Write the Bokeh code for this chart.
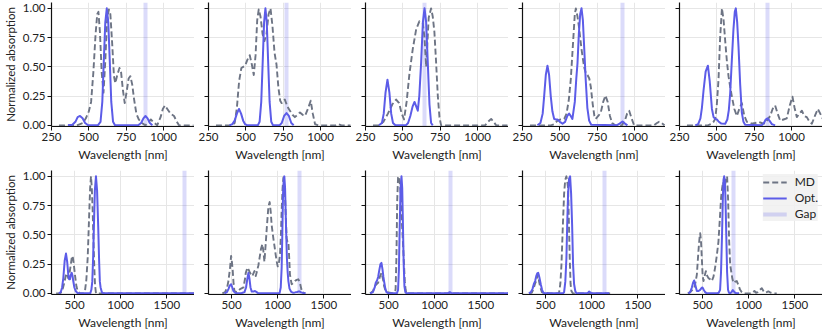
from bokeh.plotting import figure
from bokeh.models import (FixedTicker, NumeralTickFormatter, Legend, LegendItem, Range1d,
                          CustomJSTickFormatter)
from bokeh.layouts import row, column
from bokeh.embed import file_html
from bokeh.resources import INLINE

# ---------------- data (wavelength nm, normalized absorption) ----------------
T1_MD = [(300,0),(420,0),(460,0.02),(480,0.06),(500,0.12),(515,0.2),(530,0.45),(545,0.78),(556,0.95),(564,0.97),(574,0.8),(586,0.45),(598,0.28),(610,0.55),(622,0.9),(634,0.99),(644,0.95),(656,0.7),(668,0.42),(677,0.36),(690,0.43),(705,0.49),(716,0.45),(728,0.3),(740,0.19),(752,0.28),(766,0.4),(778,0.42),(790,0.35),(803,0.22),(818,0.1),(834,0.05),(855,0.02),(879,0.0),(900,0.03),(915,0.05),(930,0.03),(957,0.0),(980,0.07),(995,0.14),(1009,0.17),(1025,0.14),(1047,0.1),(1070,0.08),(1085,0.04),(1103,0.0),(1200,0.0)]
T1_OPT = [(360,0),(390,0.005),(410,0.03),(425,0.07),(441,0.08),(458,0.06),(475,0.02),(495,0.0),(560,0.0),(578,0.03),(590,0.2),(600,0.55),(610,0.88),(620,1.0),(630,0.88),(640,0.55),(650,0.2),(662,0.03),(675,0.0),(830,0.0),(850,0.02),(865,0.06),(879,0.08),(893,0.06),(908,0.02),(925,0.0)]

T2_MD = [(300,0),(405,0),(425,0.02),(440,0.15),(455,0.38),(470,0.49),(482,0.5),(495,0.51),(510,0.56),(526,0.6),(540,0.52),(553,0.43),(565,0.6),(576,0.9),(586,0.99),(598,0.93),(612,0.78),(624,0.72),(638,0.78),(652,0.95),(665,1.0),(678,0.85),(692,0.62),(705,0.52),(718,0.32),(730,0.21),(739,0.19),(750,0.21),(761,0.22),(778,0.16),(795,0.125),(812,0.09),(828,0.07),(845,0.09),(862,0.11),(880,0.09),(896,0.08),(915,0.14),(934,0.21),(948,0.1),(963,0.01),(985,0.0),(1100,0.0),(1120,0.01),(1140,0.0),(1200,0.0)]
T2_OPT = [(390,0),(410,0.01),(425,0.04),(440,0.1),(454,0.14),(468,0.1),(482,0.04),(495,0.01),(510,0.0),(580,0.0),(592,0.03),(603,0.2),(613,0.55),(622,0.88),(631,1.0),(640,0.88),(649,0.55),(659,0.2),(670,0.03),(682,0.0),(725,0.0),(740,0.02),(756,0.08),(772,0.105),(788,0.08),(804,0.02),(820,0.0)]

T3_MD = [(300,0),(340,0.0),(370,0.03),(400,0.1),(430,0.18),(455,0.22),(475,0.19),(492,0.1),(508,0.05),(525,0.2),(544,0.44),(566,0.65),(589,0.82),(611,0.89),(633,0.875),(645,0.75),(656,0.5),(664,0.7),(673,0.92),(689,1.0),(700,0.93),(711,0.8),(722,0.55),(734,0.25),(745,0.07),(756,0.0),(1050,0.0),(1070,0.03),(1091,0.055),(1108,0.03),(1124,0.0),(1200,0.0)]
T3_OPT = [(340,0),(360,0.02),(372,0.1),(384,0.28),(397,0.39),(410,0.28),(422,0.1),(434,0.02),(450,0.0),(520,0.0),(535,0.02),(550,0.08),(565,0.16),(578,0.2),(590,0.16),(600,0.125),(610,0.25),(622,0.53),(634,0.88),(645,1.0),(656,0.88),(667,0.53),(678,0.18),(689,0.02),(700,0.0)]

T4_MD = [(300,0),(440,0.0),(462,0.01),(484,0.04),(505,0.05),(529,0.055),(545,0.1),(560,0.22),(573,0.39),(588,0.7),(600,0.95),(607,1.0),(618,0.93),(629,0.83),(645,0.65),(662,0.5),(675,0.44),(685,0.43),(697,0.4),(707,0.33),(720,0.18),(731,0.08),(740,0.055),(757,0.08),(774,0.11),(790,0.2),(805,0.255),(820,0.2),(835,0.08),(850,0.02),(870,0.0),(915,0.0),(935,0.04),(950,0.1),(964,0.125),(980,0.06),(997,0.0),(1130,0.0),(1150,0.02),(1164,0.03),(1180,0.02),(1200,0.0)]
T4_OPT = [(350,0),(370,0.02),(385,0.1),(395,0.25),(406,0.43),(417,0.51),(428,0.43),(439,0.25),(450,0.12),(462,0.055),(473,0.05),(484,0.05),(500,0.03),(518,0.014),(535,0.03),(550,0.08),(562,0.1),(573,0.08),(584,0.055),(600,0.2),(610,0.4),(618,0.53),(627,0.78),(636,0.95),(645,1.0),(654,0.9),(663,0.66),(673,0.39),(684,0.15),(696,0.04),(710,0.005),(880,0.0),(900,0.015),(919,0.033),(936,0.015),(952,0.0)]

T5_MD = [(300,0),(440,0.0),(460,0.01),(478,0.03),(489,0.055),(500,0.18),(511,0.39),(522,0.75),(534,1.0),(545,0.9),(556,0.72),(567,0.55),(578,0.42),(589,0.33),(600,0.25),(617,0.14),(634,0.08),(650,0.14),(667,0.19),(684,0.08),(701,0.03),(734,0.015),(756,0.02),(778,0.03),(800,0.02),(823,0.015),(840,0.05),(857,0.08),(873,0.14),(890,0.17),(907,0.1),(924,0.04),(946,0.05),(968,0.06),(988,0.17),(1006,0.245),(1020,0.15),(1035,0.07),(1052,0.1),(1069,0.125),(1085,0.08),(1102,0.07),(1120,0.03),(1136,0.014),(1156,0.08),(1176,0.14),(1192,0.1),(1209,0.055)]
T5_OPT = [(355,0),(375,0.01),(390,0.06),(400,0.15),(411,0.3),(425,0.46),(440,0.51),(452,0.38),(467,0.14),(478,0.07),(489,0.055),(500,0.05),(511,0.033),(530,0.015),(556,0.014),(570,0.05),(580,0.13),(589,0.27),(600,0.55),(611,0.82),(620,0.97),(627,1.0),(636,0.88),(645,0.67),(656,0.35),(667,0.11),(678,0.03),(689,0.005),(800,0.0),(815,0.02),(827,0.05),(839,0.06),(852,0.04),(868,0.01),(890,0.0)]

B1_MD = [(300,0),(345,0.0),(365,0.02),(385,0.08),(405,0.15),(418,0.17),(432,0.13),(445,0.17),(458,0.24),(469,0.3),(479,0.32),(490,0.26),(504,0.16),(520,0.06),(534,0.02),(558,0.0),(600,0.0),(613,0.02),(628,0.12),(642,0.3),(651,0.5),(660,0.71),(669,0.9),(678,1.0),(687,0.9),(696,0.71),(705,0.45),(714,0.22),(722,0.07),(732,0.0),(1800,0.0)]
B1_OPT = [(330,0),(350,0.01),(365,0.05),(378,0.13),(393,0.28),(407,0.34),(420,0.27),(432,0.16),(441,0.12),(450,0.12),(460,0.16),(469,0.175),(478,0.15),(486,0.105),(498,0.05),(512,0.02),(530,0.003),(545,0.0),(670,0.0),(682,0.03),(692,0.1),(701,0.3),(710,0.58),(720,0.88),(732,1.0),(744,0.88),(756,0.58),(766,0.28),(774,0.1),(782,0.05),(796,0.01),(811,0.0),(1800,0.0)]

B2_MD = [(400,0),(430,0.01),(452,0.05),(466,0.105),(484,0.22),(495,0.32),(505,0.26),(513,0.19),(522,0.08),(531,0.02),(556,0.01),(592,0.036),(629,0.05),(645,0.12),(654,0.175),(672,0.22),(686,0.2),(700,0.175),(713,0.16),(726,0.147),(737,0.17),(748,0.19),(762,0.147),(776,0.19),(791,0.24),(805,0.31),(819,0.38),(834,0.42),(845,0.36),(856,0.27),(868,0.4),(881,0.55),(899,0.74),(913,0.78),(924,0.7),(935,0.58),(953,0.47),(966,0.4),(978,0.33),(990,0.27),(1000,0.23),(1013,0.26),(1025,0.33),(1035,0.5),(1043,0.71),(1053,0.9),(1062,0.99),(1070,0.93),(1079,0.85),(1088,0.65),(1097,0.47),(1106,0.44),(1116,0.44),(1125,0.3),(1133,0.16),(1151,0.078),(1170,0.09),(1187,0.105),(1205,0.115),(1224,0.12),(1241,0.09),(1255,0.04),(1267,0.01),(1296,0.0)]
B2_OPT = [(423,0),(450,0.01),(466,0.036),(480,0.065),(495,0.078),(508,0.05),(520,0.02),(540,0.004),(556,0.0),(600,0.0),(620,0.005),(640,0.01),(657,0.05),(670,0.12),(683,0.175),(695,0.12),(705,0.05),(719,0.015),(736,0.015),(754,0.02),(772,0.01),(790,0.0),(1020,0.0),(1033,0.05),(1043,0.22),(1050,0.5),(1058,0.85),(1066,0.98),(1072,1.0),(1080,0.9),(1090,0.58),(1100,0.3),(1108,0.18),(1116,0.105),(1128,0.04),(1144,0.015),(1165,0.005),(1187,0.008),(1210,0.012),(1231,0.017),(1255,0.008),(1278,0.003),(1303,0.0)]

B3_MD = [(300,0),(320,0.01),(332,0.02),(350,0.06),(369,0.078),(387,0.09),(405,0.14),(423,0.175),(440,0.12),(452,0.06),(465,0.03),(477,0.01),(513,0.005),(550,0.0),(567,0.02),(576,0.03),(585,0.3),(594,0.8),(603,0.99),(612,1.0),(622,0.95),(632,0.85),(645,0.6),(655,0.45),(664,0.3),(676,0.1),(685,0.03),(694,0.0),(1800,0.0)]
B3_OPT = [(300,0),(330,0.01),(350,0.05),(361,0.09),(375,0.11),(387,0.14),(400,0.2),(412,0.25),(423,0.26),(435,0.2),(444,0.14),(452,0.1),(465,0.04),(477,0.01),(500,0.0),(590,0.0),(603,0.03),(612,0.2),(621,0.58),(630,0.9),(640,1.0),(648,0.9),(656,0.58),(664,0.25),(672,0.06),(682,0.01),(695,0.0),(1140,0.0),(1163,0.01),(1185,0.0),(1800,0.0)]

B4_MD = [(320,0),(350,0.005),(369,0.036),(385,0.08),(398,0.105),(410,0.14),(420,0.16),(430,0.1),(440,0.06),(460,0.01),(477,0.005),(550,0.0),(640,0.0),(647,0.01),(660,0.08),(672,0.24),(686,0.55),(701,0.85),(713,0.97),(726,1.0),(735,0.96),(744,0.9),(753,0.6),(762,0.3),(771,0.08),(780,0.02),(795,0.0),(1200,0.0)]
B4_OPT = [(320,0),(340,0.01),(358,0.036),(373,0.08),(387,0.105),(400,0.15),(410,0.17),(420,0.175),(432,0.14),(448,0.078),(462,0.03),(474,0.008),(490,0.0),(690,0.0),(701,0.01),(714,0.1),(726,0.3),(735,0.6),(744,0.85),(755,0.98),(766,1.0),(777,0.85),(788,0.58),(798,0.25),(809,0.08),(822,0.02),(834,0.0),(950,0.0),(962,0.008),(972,0.015),(984,0.008),(1000,0.0),(1190,0.0)]

B5_MD = [(340,0),(366,0.01),(390,0.03),(412,0.05),(425,0.1),(438,0.16),(450,0.3),(460,0.41),(468,0.48),(474,0.515),(483,0.45),(492,0.3),(501,0.15),(510,0.105),(523,0.15),(536,0.19),(550,0.15),(564,0.13),(582,0.12),(600,0.105),(618,0.14),(636,0.22),(654,0.32),(672,0.44),(686,0.62),(701,0.82),(712,0.9),(722,0.95),(734,0.9),(745,0.93),(755,0.98),(766,1.0),(777,0.8),(788,0.45),(799,0.25),(810,0.19),(822,0.13),(835,0.09),(853,0.1),(871,0.105),(889,0.07),(907,0.03),(925,0.01),(943,0.0),(1015,0.0),(1040,0.005),(1062,0.02),(1080,0.005),(1100,0.01),(1123,0.03),(1142,0.044),(1160,0.02),(1178,0.005),(1195,0.01),(1213,0.016),(1240,0.005),(1267,0.0),(1304,0.0)]
B5_OPT = [(347,0),(366,0.01),(384,0.05),(397,0.09),(409,0.11),(422,0.07),(438,0.02),(456,0.02),(474,0.03),(488,0.045),(499,0.05),(512,0.03),(528,0.01),(545,0.0),(660,0.0),(675,0.005),(690,0.03),(700,0.18),(711,0.5),(720,0.82),(727,0.97),(734,1.0),(741,0.97),(748,0.82),(757,0.5),(766,0.18),(776,0.03),(786,0.005),(799,0.0),(813,0.01),(828,0.028),(840,0.015),(853,0.005),(870,0.0),(896,0.0)]

TOP_GAPS = [880, 770, 643, 921, 839]
BOTTOM_GAPS = [1695, 1235, 1173, 1138, 835]

TOP_XTICKS = [250, 500, 750, 1000]
BOTTOM_XTICKS = [500, 1000, 1500]
YTICKS = [0, 0.25, 0.5, 0.75, 1.0]

TOP = [(T1_MD, T1_OPT), (T2_MD, T2_OPT), (T3_MD, T3_OPT), (T4_MD, T4_OPT), (T5_MD, T5_OPT)]
BOTTOM = [(B1_MD, B1_OPT), (B2_MD, B2_OPT), (B3_MD, B3_OPT), (B4_MD, B4_OPT), (B5_MD, B5_OPT)]

# ---------------- style ----------------
OPT_COLOR = "#5c5ce8"
MD_COLOR = "#6d7484"
FONT = "Lato"


def make_panel(r, c, md, opt, gap):
    top_row = r == 0
    p = figure(
        frame_width=143, frame_height=124,
        x_range=Range1d(250, 1207) if top_row else Range1d(250, 1800),
        y_range=Range1d(-0.01, 1.05),
        output_backend="svg", toolbar_location=None,
        min_border_left=40 if c == 0 else 14, min_border_right=0,
        min_border_top=2 if top_row else 6, min_border_bottom=32,
    )
    p.outline_line_color = None
    p.background_fill_color = "white"

    for ax in (p.xaxis[0], p.yaxis[0]):
        ax.axis_line_color = "#111111"
        ax.axis_line_width = 1.2
        ax.major_tick_line_color = "#111111"
        ax.major_tick_out = 4
        ax.major_tick_in = 0
        ax.minor_tick_out = 0
        ax.minor_tick_in = 0
        ax.major_label_text_font = FONT
        ax.major_label_text_font_size = "11.5px"
        ax.major_label_text_color = "#222222"
        ax.major_label_standoff = 2
        ax.axis_label_text_font = FONT
        ax.axis_label_text_font_size = "12px"
        ax.axis_label_text_font_style = "normal"
        ax.axis_label_text_color = "#222222"
        ax.axis_label_standoff = 3

    p.xaxis.ticker = FixedTicker(ticks=TOP_XTICKS if top_row else BOTTOM_XTICKS)
    p.xaxis.axis_label = "Wavelength [nm]"
    p.yaxis.ticker = FixedTicker(ticks=YTICKS)
    if c == 0:
        p.yaxis.formatter = NumeralTickFormatter(format="0.00")
        p.yaxis.axis_label = "Normalized absorption"
        p.yaxis.axis_label_text_font_size = "11.5px"
    else:
        p.yaxis.formatter = CustomJSTickFormatter(code="return ''")
        p.yaxis.major_label_standoff = 0

    p.xgrid.grid_line_color = "#e6e6e6"
    p.ygrid.grid_line_color = "#e6e6e6"
    p.xgrid.grid_line_width = 1
    p.ygrid.grid_line_width = 1

    r_gap = p.vspan(x=[gap], line_color=OPT_COLOR, line_alpha=0.22, line_width=4)

    md_x = [v[0] for v in md]
    md_y = [v[1] for v in md]
    op_x = [v[0] for v in opt]
    op_y = [v[1] for v in opt]
    r_md = p.line(md_x, md_y, line_color=MD_COLOR, line_width=1.9, line_dash="6 3",
                  line_join="round")
    r_op = p.line(op_x, op_y, line_color=OPT_COLOR, line_width=2, line_join="round")

    if r == 1 and c == 4:
        legend = Legend(items=[LegendItem(label="MD", renderers=[r_md]),
                               LegendItem(label="Opt.", renderers=[r_op]),
                               LegendItem(label="Gap", renderers=[r_gap])],
                        location="top_right")
        legend.background_fill_color = "#f0f0f0"
        legend.background_fill_alpha = 0.85
        legend.border_line_color = None
        legend.label_text_font = FONT
        legend.label_text_font_size = "12px"
        legend.label_text_color = "#222222"
        legend.glyph_width = 24
        legend.glyph_height = 12
        legend.label_height = 12
        legend.spacing = 1
        legend.padding = 5
        legend.margin = 4
        legend.label_standoff = 8
        p.add_layout(legend)
    return p


rows = []
for r, (panels, gaps) in enumerate([(TOP, TOP_GAPS), (BOTTOM, BOTTOM_GAPS)]):
    figs = [make_panel(r, c, md, opt, gaps[c]) for c, (md, opt) in enumerate(panels)]
    rows.append(row(*figs, spacing=0))

layout = column(*rows, spacing=0)
open("out.html", "w").write(file_html(layout, INLINE))
